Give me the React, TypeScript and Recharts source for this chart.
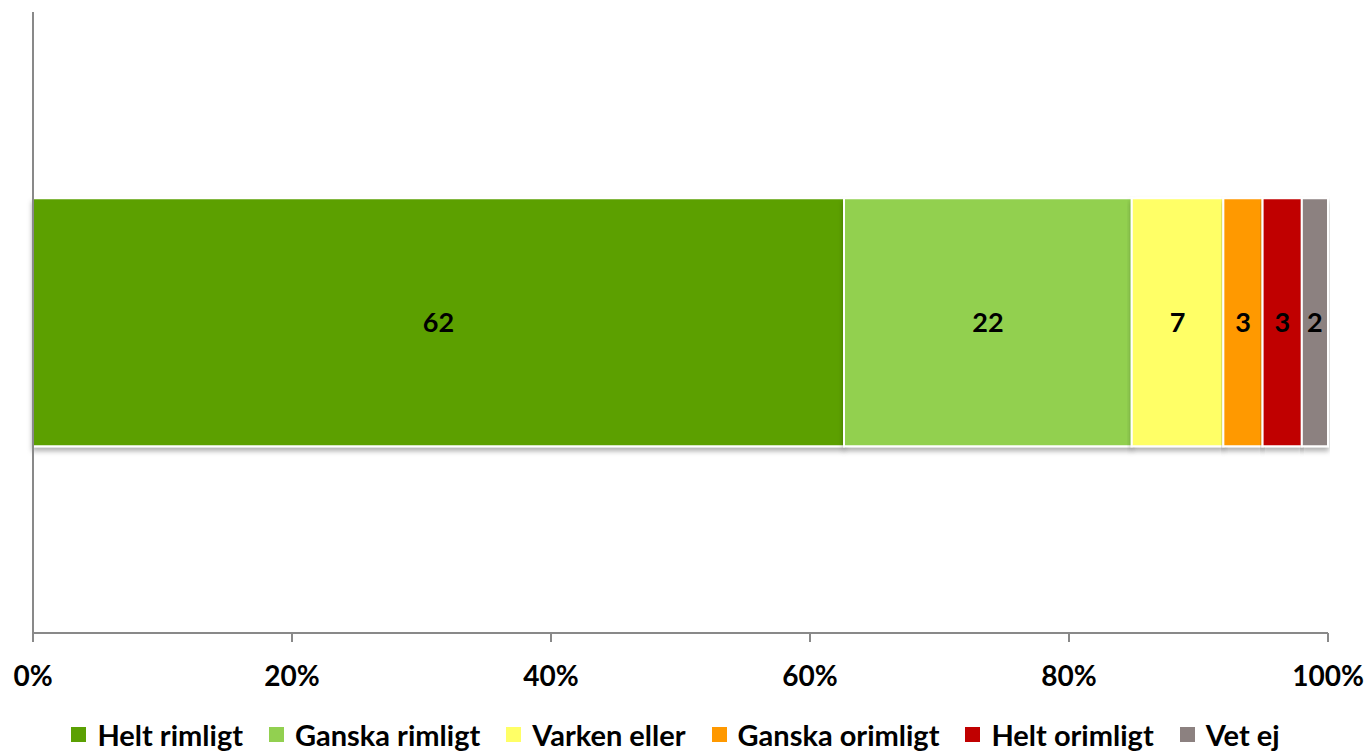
import { BarChart, Bar, XAxis, YAxis, Legend, LabelList } from "recharts";

const categories = [""];
const seriesNames = [
  "Helt rimligt",
  "Ganska rimligt",
  "Varken eller",
  "Ganska orimligt",
  "Helt orimligt",
  "Vet ej",
];
const seriesValues = [62, 22, 7, 3, 3, 2];
const seriesColors = ["#5BA003", "#92D050", "#FFFF66", "#FF9900", "#C00000", "#8C8180"];
const xTicks = [0, 0.2, 0.4, 0.6, 0.8, 1];

const FONT = "Lato, 'Open Sans', sans-serif";

const data = categories.map((name) => {
  const row: Record<string, string | number> = { name };
  seriesValues.forEach((v, i) => {
    row[`s${i}`] = v;
  });
  return row;
});

function LegendContent() {
  return (
    <div
      style={{
        display: "flex",
        justifyContent: "center",
        alignItems: "center",
        height: 40,
        paddingTop: 6,
        boxSizing: "border-box",
        fontFamily: FONT,
        fontWeight: 700,
        fontSize: 29,
        color: "#000",
        whiteSpace: "nowrap",
      }}
    >
      {seriesNames.map((n, i) => (
        <span key={n} style={{ display: "flex", alignItems: "center", marginRight: i < seriesNames.length - 1 ? 26 : 0 }}>
          <span style={{ width: 15, height: 15, background: seriesColors[i], marginRight: 11, display: "inline-block" }} />
          {n}
        </span>
      ))}
    </div>
  );
}

export default function App() {
  return (
    <div style={{ position: "absolute", left: 0, top: 0, background: "#fff" }}>
      <BarChart
        width={1369}
        height={751}
        data={data}
        layout="vertical"
        stackOffset="expand"
        barCategoryGap="30%"
        margin={{ top: 12, right: 41, left: 23, bottom: 0 }}
      >
        <defs>
          <filter id="barShadow" x="-5%" y="-5%" width="110%" height="120%">
            <feDropShadow dx="0" dy="4" stdDeviation="2.5" floodColor="#000" floodOpacity="0.3" />
          </filter>
        </defs>
        <XAxis
          type="number"
          domain={[0, 1]}
          ticks={xTicks}
          tickFormatter={(v) => `${Math.round(v * 100)}%`}
          stroke="#898989"
          strokeWidth={2}
          tickSize={9}
          tickMargin={24}
          height={78}
          tick={{ fill: "#000", fontFamily: FONT, fontWeight: 700, fontSize: 28 }}
          interval={0}
        />
        <YAxis
          type="category"
          dataKey="name"
          width={10}
          tick={false}
          tickLine={false}
          stroke="#898989"
          strokeWidth={2}
        />
        <Legend verticalAlign="bottom" height={40} content={<LegendContent />} />
        {seriesNames.map((n, i) => (
          <Bar
            key={n}
            dataKey={`s${i}`}
            name={n}
            stackId="a"
            fill={seriesColors[i]}
            stroke="#fff"
            strokeWidth={2}
            isAnimationActive={false}
            style={{ filter: "url(#barShadow)" }}
          >
            <LabelList
              dataKey={`s${i}`}
              position="center"
              fill="#000"
              style={{ fontFamily: FONT, fontWeight: 700, fontSize: 27 }}
            />
          </Bar>
        ))}
      </BarChart>
    </div>
  );
}
